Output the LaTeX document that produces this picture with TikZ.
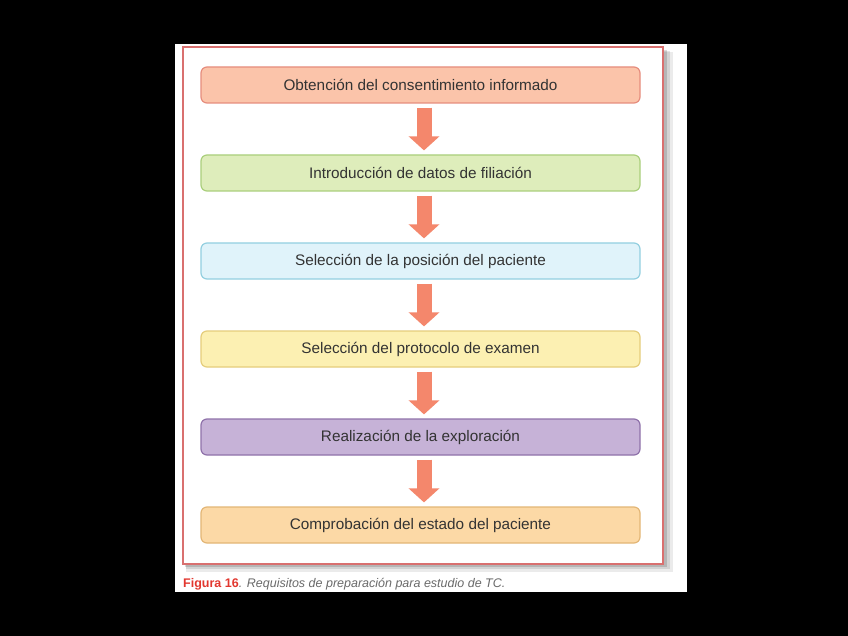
\documentclass[tikz,border=0pt]{standalone}
\usepackage{fontspec}
\setmainfont{Liberation Sans}
\usepackage{xcolor}
\usetikzlibrary{positioning, arrows.meta, calc}

\definecolor{textgray}{HTML}{333333}
\definecolor{capgray}{HTML}{6A6A6A}
\definecolor{figred}{HTML}{E2372F}
\definecolor{framered}{HTML}{D9706F}
\definecolor{flechafill}{HTML}{F4876C}
\definecolor{salmonfill}{HTML}{FBC4AA}
\definecolor{salmondraw}{HTML}{E68D7D}
\definecolor{greenfill}{HTML}{DEEDBB}
\definecolor{greendraw}{HTML}{AACF7C}
\definecolor{cyanfill}{HTML}{E0F3FA}
\definecolor{cyandraw}{HTML}{93CFE0}
\definecolor{yellowfill}{HTML}{FCF0B2}
\definecolor{yellowdraw}{HTML}{E5CD7C}
\definecolor{purplefill}{HTML}{C6B2D7}
\definecolor{purpledraw}{HTML}{8F72AA}
\definecolor{orangefill}{HTML}{FCD9A6}
\definecolor{orangedraw}{HTML}{E3B676}

\tikzset{
  paso/.style={draw, line width=1.2pt, rounded corners=6pt,
    minimum width=439pt, minimum height=36pt, text=textgray,
    font=\fontsize{15.3}{17}\selectfont},
  flecha/.style={draw=flechafill, line width=15pt,
    -{Triangle[length=14pt, width=30pt]},
    shorten <=4pt, shorten >=4pt}
}

\begin{document}
\begin{tikzpicture}[x=1pt, y=-1pt]
        % Background and panel
        \fill[black] (0,0) rectangle (848,636);
        \useasboundingbox (0,0) rectangle (848,636);
        \fill[white] (175,44) rectangle (687,592);

        % Frame with soft shadow
        \fill[black, opacity=0.08] (186,52) rectangle (673,572);
        \fill[black, opacity=0.10] (186,51) rectangle (670,569);
        \fill[black, opacity=0.14] (185,50) rectangle (667,567);
        \draw[framered, line width=1.3pt, fill=white] (183,47) rectangle (663,564);

        % Steps
        \node[paso, fill=salmonfill, draw=salmondraw] (b1) at (420.5,85) {Obtención del consentimiento informado};
        \node[paso, fill=greenfill, draw=greendraw] (b2) at (420.5,173) {Introducción de datos de filiación};
        \node[paso, fill=cyanfill, draw=cyandraw] (b3) at (420.5,261) {Selección de la posición del paciente};
        \node[paso, fill=yellowfill, draw=yellowdraw] (b4) at (420.5,349) {Selección del protocolo de examen};
        \node[paso, fill=purplefill, draw=purpledraw] (b5) at (420.5,437) {Realización de la exploración};
        \node[paso, fill=orangefill, draw=orangedraw] (b6) at (420.5,525) {Comprobación del estado del paciente};

        % Arrows
        \foreach \a/\b in {b1/b2, b2/b3, b3/b4, b4/b5, b5/b6}
          \draw[flecha] ($(\a.south)+(3.5,0)$) -- ($(\b.north)+(3.5,0)$);

        % Caption
        \node[anchor=west, inner sep=0pt, font=\fontsize{12.5}{14}\selectfont] (caption) at (183,584)
          {\textcolor{figred}{\bfseries Figura 16}\textcolor{capgray}{\itshape . Requisitos de preparación para estudio de TC.}};
      \end{tikzpicture}
\end{document}
